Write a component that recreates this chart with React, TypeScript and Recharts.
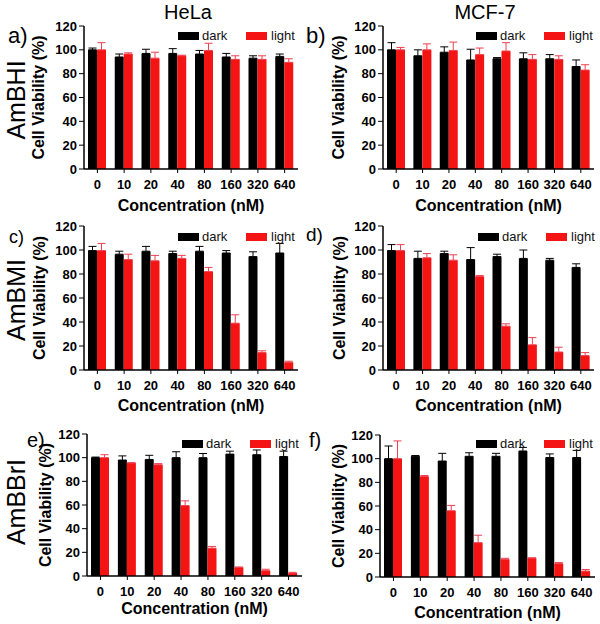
import React from 'react';
import { BarChart, Bar, XAxis, YAxis, ErrorBar, Legend } from 'recharts';

const concentrations = ['0', '10', '20', '40', '80', '160', '320', '640'];
const yTicks = [0, 20, 40, 60, 80, 100, 120];
const columnTitles = ['HeLa', 'MCF-7'];
const rowTitles = ['AmBHI', 'AmBMI', 'AmBBrI'];
const panelLetters = ['a)', 'b)', 'c)', 'd)', 'e)', 'f)'];
const seriesNames = ['dark', 'light'];

const darkA = [100, 94, 97, 97, 96.5, 94, 93, 94.5];
const darkErrA = [1.5, 2.5, 3.5, 4, 3, 3, 2, 2];
const lightA = [100, 96.5, 93, 95, 99.5, 92, 92, 89.5];
const lightErrA = [6, 1, 5, 0.5, 6, 3, 3, 3];

const darkB = [100, 95, 98, 91.5, 92.5, 92.5, 92.5, 86];
const darkErrB = [6, 5, 4.5, 9, 1, 5, 3.5, 5.5];
const lightB = [100, 100, 99.5, 96, 99, 92, 92, 83];
const lightErrB = [2, 5, 7, 5.5, 7, 4, 3, 4.5];

const darkC = [99.5, 96.5, 99, 97, 99, 97.5, 94.5, 97.5];
const darkErrC = [3.5, 2.5, 4, 2, 4, 2, 4, 8];
const lightC = [99.5, 92, 91, 93, 82, 39, 14.5, 6.3];
const lightErrC = [6, 4.5, 4.5, 2.5, 3.5, 7, 1.5, 1];

const darkD = [99.5, 93, 97, 92, 94.5, 93, 91.5, 85.5];
const darkErrD = [5, 6, 2, 10, 2, 7, 1.5, 3];
const lightD = [99.5, 93.5, 91.5, 78, 36.5, 21, 15, 12];
const lightErrD = [5, 3.5, 4.5, 0.8, 2, 6, 4, 2.5];

const darkE = [100, 98, 98.5, 100, 100, 103, 102.5, 101];
const darkErrE = [0.5, 3.5, 3.5, 5, 3.5, 2.5, 4, 4.5];
const lightE = [100, 95.5, 94, 59.5, 23.5, 7.3, 4.5, 2.5];
const lightErrE = [2.5, 0.3, 1, 4, 1.5, 0.3, 1.2, 0.6];

const darkF = [100, 102, 98, 102, 102, 106.5, 101, 101];
const darkErrF = [10.7, 0.7, 6.5, 3, 2.5, 3, 3, 6];
const lightF = [100, 85, 56, 29, 15, 16, 11.3, 5];
const lightErrF = [15, 0.8, 4.5, 6.3, 0.8, 0.2, 1, 1.3];

const FONT = '"Liberation Sans", Arial, Helvetica, sans-serif';
const RED = '#f41414';
const RED_ERR = '#ee4050';
const FRAME = '#9a9a9a';

function buildRows(dark: number[], darkErr: number[], light: number[], lightErr: number[]) {
  return concentrations.map((c, i) => ({
    conc: c,
    dark: dark[i],
    light: light[i],
    darkErr: [0, darkErr[i]],
    lightErr: [0, lightErr[i]],
  }));
}

type Panel = {
  left: number;
  top: number;
  width: number;
  height: number;
  margin: { top: number; right: number; bottom: number; left: number };
  yWidth: number;
  xHeight: number;
  yTitleX: number;
  legend: { x: number; y: number };
  rows: any[];
};

const panels: Panel[] = [
  { left: 0, top: 0, width: 300, height: 215, margin: { top: 26, right: 2, bottom: 4, left: 0 }, yWidth: 84, xHeight: 42, yTitleX: 38, legend: { x: 178, y: 35.5 }, rows: buildRows(darkA, darkErrA, lightA, lightErrA) },
  { left: 300, top: 0, width: 300, height: 215, margin: { top: 26, right: 6, bottom: 4, left: 0 }, yWidth: 83, xHeight: 42, yTitleX: 38, legend: { x: 176, y: 35.5 }, rows: buildRows(darkB, darkErrB, lightB, lightErrB) },
  { left: 0, top: 200, width: 300, height: 215, margin: { top: 26, right: 2, bottom: 4, left: 0 }, yWidth: 84, xHeight: 41, yTitleX: 39, legend: { x: 178, y: 36.5 }, rows: buildRows(darkC, darkErrC, lightC, lightErrC) },
  { left: 300, top: 200, width: 300, height: 215, margin: { top: 26, right: 6, bottom: 4, left: 0 }, yWidth: 83, xHeight: 41, yTitleX: 39, legend: { x: 178, y: 36.5 }, rows: buildRows(darkD, darkErrD, lightD, lightErrD) },
  { left: 0, top: 410, width: 305, height: 214, margin: { top: 24, right: 3, bottom: 10, left: 0 }, yWidth: 87, xHeight: 38, yTitleX: 45, legend: { x: 182, y: 34 }, rows: buildRows(darkE, darkErrE, lightE, lightErrE) },
  { left: 300, top: 410, width: 300, height: 214, margin: { top: 25, right: 5, bottom: 6, left: 0 }, yWidth: 80, xHeight: 41, yTitleX: 38, legend: { x: 176, y: 33.5 }, rows: buildRows(darkF, darkErrF, lightF, lightErrF) },
];

const LegendBox = () => (
  <div style={{ position: 'relative', width: 130, height: 16, fontFamily: FONT, fontSize: 13, color: '#111' }}>
    <div style={{ position: 'absolute', left: 0, top: 4, width: 21, height: 8, background: '#000' }} />
    <div style={{ position: 'absolute', left: 24, top: 0, lineHeight: '16px' }}>{seriesNames[0]}</div>
    <div style={{ position: 'absolute', left: 68, top: 4, width: 21, height: 8, background: RED }} />
    <div style={{ position: 'absolute', left: 93, top: 0, lineHeight: '16px' }}>{seriesNames[1]}</div>
  </div>
);

function PanelChart({ p }: { p: Panel }) {
  const tickStyle = { fontFamily: FONT, fontSize: 13, fontWeight: 700, fill: '#000' };
  return (
    <div style={{ position: 'absolute', left: p.left, top: p.top }}>
      <BarChart width={p.width} height={p.height} data={p.rows} margin={p.margin} barGap={0}>
        <XAxis
          dataKey="conc"
          height={p.xHeight}
          tick={tickStyle}
          tickSize={4}
          tickMargin={7}
          axisLine={{ stroke: '#000', strokeWidth: 1.5 }}
          tickLine={{ stroke: '#000' }}
          interval={0}
          label={{ value: 'Concentration (nM)', position: 'insideBottom', offset: 0, style: { fontFamily: FONT, fontSize: 16, fontWeight: 700, fill: '#000' } }}
        />
        <XAxis xAxisId="top" dataKey="conc" orientation="top" height={0} tick={false} tickLine={false} axisLine={{ stroke: FRAME, strokeWidth: 1 }} />
        <YAxis
          width={p.yWidth}
          domain={[0, 120]}
          ticks={yTicks}
          interval={0}
          tick={tickStyle}
          tickSize={5}
          tickMargin={2}
          axisLine={{ stroke: '#000', strokeWidth: 1.5 }}
          tickLine={{ stroke: '#000' }}
          label={{ value: 'Cell Viability (%)', angle: -90, position: 'insideLeft', offset: p.yTitleX, style: { textAnchor: 'middle', fontFamily: FONT, fontSize: 16, fontWeight: 700, fill: '#000' } }}
        />
        <YAxis yAxisId="right" orientation="right" width={0} domain={[0, 120]} tick={false} tickLine={false} axisLine={{ stroke: FRAME, strokeWidth: 1 }} />
        <Legend
          layout="horizontal"
          verticalAlign="middle"
          align="center"
          content={() => <LegendBox />}
          wrapperStyle={{ position: 'absolute', left: p.legend.x, top: p.legend.y - 8, width: 130, height: 16 }}
        />
        <Bar dataKey="dark" name={seriesNames[0]} fill="#000" barSize={9} isAnimationActive={false}>
          <ErrorBar dataKey="darkErr" width={4} stroke="#000" strokeWidth={1} direction="y" />
        </Bar>
        <Bar dataKey="light" name={seriesNames[1]} fill={RED} barSize={9} isAnimationActive={false}>
          <ErrorBar dataKey="lightErr" width={4} stroke={RED_ERR} strokeWidth={1} direction="y" />
        </Bar>
      </BarChart>
    </div>
  );
}

export default function App() {
  return (
    <div style={{ position: 'absolute', left: 0, top: 0, width: 600, height: 624, background: '#fff', overflow: 'hidden' }}>
      {panels.map((p, i) => (
        <PanelChart key={i} p={p} />
      ))}
      <svg width={600} height={624} style={{ position: 'absolute', left: 0, top: 0, pointerEvents: 'none' }}>
        <g fontFamily={FONT} fill="#000">
          <text x={188} y={19} fontSize={20} textAnchor="middle">{columnTitles[0]}</text>
          <text x={485} y={19} fontSize={20} textAnchor="middle">{columnTitles[1]}</text>
          <text x={25} y={100} fontSize={25} textAnchor="middle" transform="rotate(-90 25 100)">{rowTitles[0]}</text>
          <text x={25} y={300} fontSize={25} textAnchor="middle" transform="rotate(-90 25 300)">{rowTitles[1]}</text>
          <text x={25} y={502} fontSize={25} textAnchor="middle" transform="rotate(-90 25 502)">{rowTitles[2]}</text>
          <text x={8} y={43} fontSize={22}>{panelLetters[0]}</text>
          <text x={306} y={43} fontSize={22}>{panelLetters[1]}</text>
          <text x={9} y={243} fontSize={18}>{panelLetters[2]}</text>
          <text x={306} y={241} fontSize={19}>{panelLetters[3]}</text>
          <text x={27} y={447} fontSize={20}>{panelLetters[4]}</text>
          <text x={309} y={447} fontSize={20}>{panelLetters[5]}</text>
        </g>
      </svg>
    </div>
  );
}
